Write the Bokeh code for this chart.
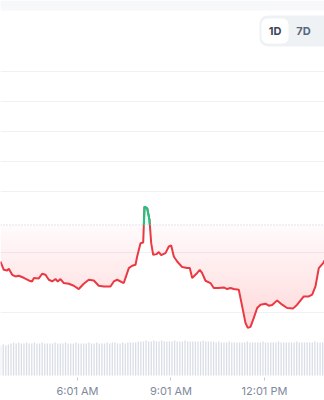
import numpy as np
from bokeh.plotting import figure
from bokeh.models import Range1d, FixedTicker, BoxAnnotation, Label, Span
from bokeh.embed import file_html
from bokeh.resources import INLINE

# ---------------- data ----------------
# time in minutes since midnight
minutes = [212.8, 219.1, 225.7, 228.8, 235.3, 241.7, 248.0, 257.6, 267.2, 273.8,
           276.9, 286.5, 293.0, 299.4, 305.8, 312.3, 318.7, 323.1, 328.3, 334.6,
           344.3, 353.9, 363.5, 373.1, 382.7, 392.4, 402.0, 411.7, 424.5, 430.9,
           437.4, 450.1, 459.8, 466.3, 472.7, 475.9, 482.3, 487.5, 490.0, 495.2,
           499.6, 502.9, 506.7, 513.1, 517.5, 522.1, 530.4, 536.8, 541.4, 546.4,
           552.9, 562.6, 572.2, 577.2, 581.8, 590.0, 596.4, 601.0, 607.4, 617.0,
           623.3, 633.0, 642.6, 649.1, 655.5, 661.9, 671.5, 678.0, 684.4, 688.8,
           694.0, 700.4, 706.9, 713.3, 722.9, 729.2, 735.8, 745.4, 755.0, 764.6,
           776.2, 783.9, 796.6, 806.2, 812.8, 819.1, 825.5, 833.9, 836.5]
price = [3.696, 3.421, 3.398, 3.455, 3.256, 3.200, 3.223, 3.157, 3.068, 3.035,
         3.147, 3.134, 3.289, 3.256, 3.091, 3.035, 3.114, 3.035, 3.114, 2.982,
         2.959, 2.893, 2.783, 2.959, 3.091, 3.068, 2.893, 2.869, 2.869, 3.035,
         3.091, 2.982, 3.478, 3.554, 3.587, 3.861, 4.304, 4.324, 5.514, 5.461,
         5.074, 4.304, 3.917, 3.940, 4.007, 3.907, 3.974, 4.192, 4.225, 3.861,
         3.696, 3.511, 3.478, 3.478, 3.147, 3.289, 3.421, 3.312, 3.058, 2.982,
         2.817, 2.817, 2.836, 2.783, 2.817, 2.783, 2.760, 2.208, 1.660, 1.494,
         1.527, 1.825, 2.155, 2.264, 2.298, 2.231, 2.255, 2.407, 2.264, 2.155,
         2.142, 2.264, 2.539, 2.539, 2.595, 2.869, 3.478, 3.643, 3.729]
open_price = 4.909

volume_start = 213.0
volume_step = 5.0
volume = [30, 31, 30, 31, 32, 33, 32, 33, 32, 32, 33, 32, 32, 33, 32, 32, 33, 32, 32, 32, 32, 33, 32, 32, 32,
          33, 32, 32, 32, 33, 32, 32, 32, 32, 33, 32, 32, 33, 32, 32, 32, 33, 32, 33, 33, 32, 32, 33, 32, 33,
          33, 33, 33, 34, 34, 34, 35, 34, 34, 35, 34, 34, 35, 34, 34, 34, 34, 35, 34, 34, 34, 35, 34, 34, 34,
          34, 34, 34, 35, 34, 34, 34, 34, 33, 34, 33, 33, 33, 34, 33, 33, 33, 33, 33, 33, 34, 33, 33, 33, 33,
          33, 34, 33, 33, 33, 33, 33, 34, 33, 33, 33, 33, 33, 33, 34, 33, 33, 33, 33, 33, 33, 34, 33, 33, 33]

tick_minutes = [361, 541, 721]
tick_labels = ["6:01 AM", "9:01 AM", "12:01 PM"]
grid_values = [2, 4, 6, 7, 8, 9, 10]
buttons = ["1D", "7D"]

RED = "#ea3943"
GREEN = "#16c784"

# ---------------- figure ----------------
X0, X1 = 212.8, 836.5
Y0, Y1 = -0.149, 12.347
W, H = 324, 400
FRAME_H = 378


def px2x(px):
    return X0 + px * (X1 - X0) / W


def px2y(py):
    return Y1 - py * (Y1 - Y0) / FRAME_H


p = figure(width=W, height=H, x_range=Range1d(X0, X1), y_range=Range1d(Y0, Y1),
           output_backend="svg", toolbar_location=None,
           min_border_left=0, min_border_right=0, min_border_top=0, min_border_bottom=H - FRAME_H)
p.outline_line_color = None
p.background_fill_color = "white"
p.border_fill_color = "white"
p.extra_y_ranges = {"vol": Range1d(-2, 376)}

p.yaxis.visible = False
p.xgrid.visible = False
p.ygrid.ticker = FixedTicker(ticks=grid_values)
p.ygrid.grid_line_color = "#eff2f5"
p.ygrid.grid_line_width = 1

p.xaxis.ticker = FixedTicker(ticks=tick_minutes)
p.xaxis.major_label_overrides = dict(zip(tick_minutes, tick_labels))
p.xaxis.axis_line_color = None
p.xaxis.major_tick_in = 0
p.xaxis.major_tick_out = 3
p.xaxis.major_tick_line_color = "#c4cad4"
p.xaxis.minor_tick_line_color = None
p.xaxis.major_label_standoff = 3
p.xaxis.major_label_text_font = "Inter"
p.xaxis.major_label_text_font_size = "11px"
p.xaxis.major_label_text_color = "#808a9d"

# top faint band
p.add_layout(BoxAnnotation(bottom=px2y(10), fill_color="#f7f8fa", fill_alpha=1, line_color=None))

x = np.array(minutes)
y = np.array(price)

# gradient fill below the open price
p.varea(x=x, y1=np.minimum(y, open_price), y2=open_price, fill_color=RED, fill_alpha=0.025)
levels = np.arange(open_price - 0.1, float(y.min()) - 0.1, -0.1)
for b in levels:
    p.varea(x=x, y1=np.minimum(y, b), y2=b, fill_color=RED, fill_alpha=0.0042)
# green fill above the open price
p.varea(x=x, y1=open_price, y2=np.maximum(y, open_price), fill_color=GREEN, fill_alpha=0.06)

# baseline
p.add_layout(Span(location=open_price, dimension="width", line_color="#c8cdd6",
                  line_dash="1 2", line_width=1))

# red line
p.line(x, y, line_color=RED, line_width=2)

# green parts (above open price)
gx, gy = [], []
for i in range(len(x)):
    if y[i] > open_price:
        gx.append(x[i]); gy.append(y[i])
    if i < len(x) - 1 and (y[i] - open_price) * (y[i + 1] - open_price) < 0:
        t = (open_price - y[i]) / (y[i + 1] - y[i])
        xc = x[i] + t * (x[i + 1] - x[i])
        gx.append(xc); gy.append(open_price)
        if y[i] > open_price:
            gx.append(np.nan); gy.append(np.nan)
p.line(gx, gy, line_color=GREEN, line_width=2)

# volume bars
vt = [volume_start + i * volume_step for i in range(len(volume))]
p.vbar(x=vt, top=volume, bottom=0, width=volume_step * 0.5, y_range_name="vol",
       fill_color="#d9dde6", line_color=None)

# range buttons
p.add_layout(BoxAnnotation(left=px2x(259), right=px2x(340), top=px2y(15), bottom=px2y(46),
                           fill_color="#eff2f5", fill_alpha=1, line_color=None, border_radius=8))
p.add_layout(BoxAnnotation(left=px2x(261), right=px2x(288), top=px2y(18), bottom=px2y(43),
                           fill_color="white", fill_alpha=1, line_color=None, border_radius=6))
for name, cx, col in zip(buttons, [274.5, 303.0], ["#3d4657", "#58667e"]):
    p.add_layout(Label(x=px2x(cx), y=px2y(31), text=name, text_align="center",
                       text_baseline="middle", text_font="Inter", text_font_size="11px",
                       text_font_style="bold", text_color=col))

open("out.html", "w").write(file_html(p, INLINE))
